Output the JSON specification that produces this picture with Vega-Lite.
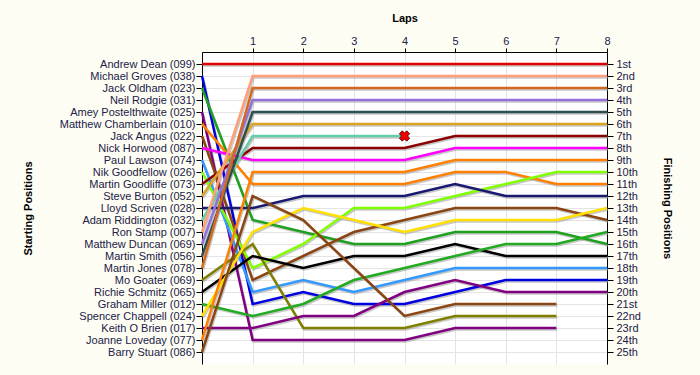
{
  "$schema": "https://vega.github.io/schema/vega-lite/v6.json",
  "width": 405,
  "height": 312,
  "autosize": {"type": "none"},
  "padding": {"left": 202, "top": 52, "right": 93, "bottom": 11},
  "background": "#FEFDF3",
  "config": {
    "view": {"fill": "white", "stroke": null},
    "font": "Liberation Sans"
  },
  "datasets": {
    "laps": [
      {"driver":"Andrew Dean","lap":0,"pos":1},{"driver":"Andrew Dean","lap":1,"pos":1},{"driver":"Andrew Dean","lap":2,"pos":1},{"driver":"Andrew Dean","lap":3,"pos":1},{"driver":"Andrew Dean","lap":4,"pos":1},{"driver":"Andrew Dean","lap":5,"pos":1},{"driver":"Andrew Dean","lap":6,"pos":1},{"driver":"Andrew Dean","lap":7,"pos":1},{"driver":"Andrew Dean","lap":8,"pos":1},
      {"driver":"Michael Groves","lap":0,"pos":2},{"driver":"Michael Groves","lap":1,"pos":21},{"driver":"Michael Groves","lap":2,"pos":20},{"driver":"Michael Groves","lap":3,"pos":21},{"driver":"Michael Groves","lap":4,"pos":21},{"driver":"Michael Groves","lap":5,"pos":20},{"driver":"Michael Groves","lap":6,"pos":19},{"driver":"Michael Groves","lap":7,"pos":19},{"driver":"Michael Groves","lap":8,"pos":19},
      {"driver":"Jack Oldham","lap":0,"pos":3},{"driver":"Jack Oldham","lap":1,"pos":14},{"driver":"Jack Oldham","lap":2,"pos":15},{"driver":"Jack Oldham","lap":3,"pos":16},{"driver":"Jack Oldham","lap":4,"pos":16},{"driver":"Jack Oldham","lap":5,"pos":15},{"driver":"Jack Oldham","lap":6,"pos":15},{"driver":"Jack Oldham","lap":7,"pos":15},{"driver":"Jack Oldham","lap":8,"pos":16},
      {"driver":"Amey Postelthwaite","lap":0,"pos":5},{"driver":"Amey Postelthwaite","lap":1,"pos":24},{"driver":"Amey Postelthwaite","lap":2,"pos":24},{"driver":"Amey Postelthwaite","lap":3,"pos":24},{"driver":"Amey Postelthwaite","lap":4,"pos":24},{"driver":"Amey Postelthwaite","lap":5,"pos":23},{"driver":"Amey Postelthwaite","lap":6,"pos":23},{"driver":"Amey Postelthwaite","lap":7,"pos":23},
      {"driver":"Matthew Chamberlain","lap":0,"pos":6},{"driver":"Matthew Chamberlain","lap":1,"pos":11},{"driver":"Matthew Chamberlain","lap":2,"pos":11},{"driver":"Matthew Chamberlain","lap":3,"pos":11},{"driver":"Matthew Chamberlain","lap":4,"pos":11},{"driver":"Matthew Chamberlain","lap":5,"pos":10},{"driver":"Matthew Chamberlain","lap":6,"pos":10},{"driver":"Matthew Chamberlain","lap":7,"pos":11},{"driver":"Matthew Chamberlain","lap":8,"pos":11},
      {"driver":"Jack Angus","lap":0,"pos":7},{"driver":"Jack Angus","lap":1,"pos":19},{"driver":"Jack Angus","lap":2,"pos":17},{"driver":"Jack Angus","lap":3,"pos":15},{"driver":"Jack Angus","lap":4,"pos":14},{"driver":"Jack Angus","lap":5,"pos":13},{"driver":"Jack Angus","lap":6,"pos":13},{"driver":"Jack Angus","lap":7,"pos":13},{"driver":"Jack Angus","lap":8,"pos":14},
      {"driver":"Nick Horwood","lap":0,"pos":8},{"driver":"Nick Horwood","lap":1,"pos":9},{"driver":"Nick Horwood","lap":2,"pos":9},{"driver":"Nick Horwood","lap":3,"pos":9},{"driver":"Nick Horwood","lap":4,"pos":9},{"driver":"Nick Horwood","lap":5,"pos":8},{"driver":"Nick Horwood","lap":6,"pos":8},{"driver":"Nick Horwood","lap":7,"pos":8},{"driver":"Nick Horwood","lap":8,"pos":8},
      {"driver":"Paul Lawson","lap":0,"pos":9},{"driver":"Paul Lawson","lap":1,"pos":20},{"driver":"Paul Lawson","lap":2,"pos":19},{"driver":"Paul Lawson","lap":3,"pos":20},{"driver":"Paul Lawson","lap":4,"pos":19},{"driver":"Paul Lawson","lap":5,"pos":18},{"driver":"Paul Lawson","lap":6,"pos":18},{"driver":"Paul Lawson","lap":7,"pos":18},{"driver":"Paul Lawson","lap":8,"pos":18},
      {"driver":"Nik Goodfellow","lap":0,"pos":10},{"driver":"Nik Goodfellow","lap":1,"pos":18},{"driver":"Nik Goodfellow","lap":2,"pos":16},{"driver":"Nik Goodfellow","lap":3,"pos":13},{"driver":"Nik Goodfellow","lap":4,"pos":13},{"driver":"Nik Goodfellow","lap":5,"pos":12},{"driver":"Nik Goodfellow","lap":6,"pos":11},{"driver":"Nik Goodfellow","lap":7,"pos":10},{"driver":"Nik Goodfellow","lap":8,"pos":10},
      {"driver":"Martin Goodliffe","lap":0,"pos":11},{"driver":"Martin Goodliffe","lap":1,"pos":8},{"driver":"Martin Goodliffe","lap":2,"pos":8},{"driver":"Martin Goodliffe","lap":3,"pos":8},{"driver":"Martin Goodliffe","lap":4,"pos":8},{"driver":"Martin Goodliffe","lap":5,"pos":7},{"driver":"Martin Goodliffe","lap":6,"pos":7},{"driver":"Martin Goodliffe","lap":7,"pos":7},{"driver":"Martin Goodliffe","lap":8,"pos":7},
      {"driver":"Steve Burton","lap":0,"pos":12},{"driver":"Steve Burton","lap":1,"pos":6},{"driver":"Steve Burton","lap":2,"pos":6},{"driver":"Steve Burton","lap":3,"pos":6},{"driver":"Steve Burton","lap":4,"pos":6},{"driver":"Steve Burton","lap":5,"pos":6},{"driver":"Steve Burton","lap":6,"pos":6},{"driver":"Steve Burton","lap":7,"pos":6},{"driver":"Steve Burton","lap":8,"pos":6},
      {"driver":"Lloyd Scriven","lap":0,"pos":13},{"driver":"Lloyd Scriven","lap":1,"pos":13},{"driver":"Lloyd Scriven","lap":2,"pos":12},{"driver":"Lloyd Scriven","lap":3,"pos":12},{"driver":"Lloyd Scriven","lap":4,"pos":12},{"driver":"Lloyd Scriven","lap":5,"pos":11},{"driver":"Lloyd Scriven","lap":6,"pos":12},{"driver":"Lloyd Scriven","lap":7,"pos":12},{"driver":"Lloyd Scriven","lap":8,"pos":12},
      {"driver":"Adam Riddington","lap":0,"pos":14},{"driver":"Adam Riddington","lap":1,"pos":7},{"driver":"Adam Riddington","lap":2,"pos":7},{"driver":"Adam Riddington","lap":3,"pos":7},{"driver":"Adam Riddington","lap":4,"pos":7},
      {"driver":"Ron Stamp","lap":0,"pos":15},{"driver":"Ron Stamp","lap":1,"pos":2},{"driver":"Ron Stamp","lap":2,"pos":2},{"driver":"Ron Stamp","lap":3,"pos":2},{"driver":"Ron Stamp","lap":4,"pos":2},{"driver":"Ron Stamp","lap":5,"pos":2},{"driver":"Ron Stamp","lap":6,"pos":2},{"driver":"Ron Stamp","lap":7,"pos":2},{"driver":"Ron Stamp","lap":8,"pos":2},
      {"driver":"Matthew Duncan","lap":0,"pos":16},{"driver":"Matthew Duncan","lap":1,"pos":4},{"driver":"Matthew Duncan","lap":2,"pos":4},{"driver":"Matthew Duncan","lap":3,"pos":4},{"driver":"Matthew Duncan","lap":4,"pos":4},{"driver":"Matthew Duncan","lap":5,"pos":4},{"driver":"Matthew Duncan","lap":6,"pos":4},{"driver":"Matthew Duncan","lap":7,"pos":4},{"driver":"Matthew Duncan","lap":8,"pos":4},
      {"driver":"Martin Smith","lap":0,"pos":17},{"driver":"Martin Smith","lap":1,"pos":5},{"driver":"Martin Smith","lap":2,"pos":5},{"driver":"Martin Smith","lap":3,"pos":5},{"driver":"Martin Smith","lap":4,"pos":5},{"driver":"Martin Smith","lap":5,"pos":5},{"driver":"Martin Smith","lap":6,"pos":5},{"driver":"Martin Smith","lap":7,"pos":5},{"driver":"Martin Smith","lap":8,"pos":5},
      {"driver":"Martin Jones","lap":0,"pos":18},{"driver":"Martin Jones","lap":1,"pos":3},{"driver":"Martin Jones","lap":2,"pos":3},{"driver":"Martin Jones","lap":3,"pos":3},{"driver":"Martin Jones","lap":4,"pos":3},{"driver":"Martin Jones","lap":5,"pos":3},{"driver":"Martin Jones","lap":6,"pos":3},{"driver":"Martin Jones","lap":7,"pos":3},{"driver":"Martin Jones","lap":8,"pos":3},
      {"driver":"Mo Goater","lap":0,"pos":19},{"driver":"Mo Goater","lap":1,"pos":16},{"driver":"Mo Goater","lap":2,"pos":23},{"driver":"Mo Goater","lap":3,"pos":23},{"driver":"Mo Goater","lap":4,"pos":23},{"driver":"Mo Goater","lap":5,"pos":22},{"driver":"Mo Goater","lap":6,"pos":22},{"driver":"Mo Goater","lap":7,"pos":22},
      {"driver":"Richie Schmitz","lap":0,"pos":20},{"driver":"Richie Schmitz","lap":1,"pos":17},{"driver":"Richie Schmitz","lap":2,"pos":18},{"driver":"Richie Schmitz","lap":3,"pos":17},{"driver":"Richie Schmitz","lap":4,"pos":17},{"driver":"Richie Schmitz","lap":5,"pos":16},{"driver":"Richie Schmitz","lap":6,"pos":17},{"driver":"Richie Schmitz","lap":7,"pos":17},{"driver":"Richie Schmitz","lap":8,"pos":17},
      {"driver":"Graham Miller","lap":0,"pos":21},{"driver":"Graham Miller","lap":1,"pos":22},{"driver":"Graham Miller","lap":2,"pos":21},{"driver":"Graham Miller","lap":3,"pos":19},{"driver":"Graham Miller","lap":4,"pos":18},{"driver":"Graham Miller","lap":5,"pos":17},{"driver":"Graham Miller","lap":6,"pos":16},{"driver":"Graham Miller","lap":7,"pos":16},{"driver":"Graham Miller","lap":8,"pos":15},
      {"driver":"Spencer Chappell","lap":0,"pos":22},{"driver":"Spencer Chappell","lap":1,"pos":15},{"driver":"Spencer Chappell","lap":2,"pos":13},{"driver":"Spencer Chappell","lap":3,"pos":14},{"driver":"Spencer Chappell","lap":4,"pos":15},{"driver":"Spencer Chappell","lap":5,"pos":14},{"driver":"Spencer Chappell","lap":6,"pos":14},{"driver":"Spencer Chappell","lap":7,"pos":14},{"driver":"Spencer Chappell","lap":8,"pos":13},
      {"driver":"Keith O Brien","lap":0,"pos":23},{"driver":"Keith O Brien","lap":1,"pos":23},{"driver":"Keith O Brien","lap":2,"pos":22},{"driver":"Keith O Brien","lap":3,"pos":22},{"driver":"Keith O Brien","lap":4,"pos":20},{"driver":"Keith O Brien","lap":5,"pos":19},{"driver":"Keith O Brien","lap":6,"pos":20},{"driver":"Keith O Brien","lap":7,"pos":20},{"driver":"Keith O Brien","lap":8,"pos":20},
      {"driver":"Joanne Loveday","lap":0,"pos":24},{"driver":"Joanne Loveday","lap":1,"pos":10},{"driver":"Joanne Loveday","lap":2,"pos":10},{"driver":"Joanne Loveday","lap":3,"pos":10},{"driver":"Joanne Loveday","lap":4,"pos":10},{"driver":"Joanne Loveday","lap":5,"pos":9},{"driver":"Joanne Loveday","lap":6,"pos":9},{"driver":"Joanne Loveday","lap":7,"pos":9},{"driver":"Joanne Loveday","lap":8,"pos":9},
      {"driver":"Barry Stuart","lap":0,"pos":25},{"driver":"Barry Stuart","lap":1,"pos":12},{"driver":"Barry Stuart","lap":2,"pos":14},{"driver":"Barry Stuart","lap":3,"pos":18},{"driver":"Barry Stuart","lap":4,"pos":22},{"driver":"Barry Stuart","lap":5,"pos":21},{"driver":"Barry Stuart","lap":6,"pos":21},{"driver":"Barry Stuart","lap":7,"pos":21}
    ],
    "retired": [{"driver":"Adam Riddington","lap":4,"pos":7}]
  },
  "data": {"name": "laps"},
  "encoding": {
    "x": {
      "field": "lap", "type": "quantitative",
      "scale": {"domain": [0, 8], "nice": false, "zero": false},
      "axis": {
        "orient": "top", "values": [1,2,3,4,5,6,7,8], "format": "d",
        "title": "Laps", "titleFontSize": 11, "titleFontWeight": "bold", "titleColor": "#000000",
        "titleX": 202.5, "titleY": -34, "titleBaseline": "middle", "titleAlign": "center",
        "tickSize": 4, "tickColor": "#000000", "domainColor": "#000000", "labelPadding": 2,
        "labelFontSize": 11, "labelColor": "#202048", "labelFlush": false,
        "grid": true, "gridColor": "#E4E4E4", "gridWidth": 1
      }
    }
  },
  "layer": [
    {
      "mark": {"type": "line", "color": "#9A9A9A", "opacity": 0.55, "strokeWidth": 2.5, "xOffset": 1, "yOffset": 1.5},
      "encoding": {
        "y": {
          "field": "pos", "type": "quantitative",
          "scale": {"domain": [0, 26], "reverse": true, "nice": false, "zero": false},
          "axis": {
            "orient": "left", "values": [1,2,3,4,5,6,7,8,9,10,11,12,13,14,15,16,17,18,19,20,21,22,23,24,25],
            "labelExpr": "['', 'Andrew Dean (099)', 'Michael Groves (038)', 'Jack Oldham (023)', 'Neil Rodgie (031)', 'Amey Postelthwaite (025)', 'Matthew Chamberlain (010)', 'Jack Angus (022)', 'Nick Horwood (087)', 'Paul Lawson (074)', 'Nik Goodfellow (026)', 'Martin Goodliffe (073)', 'Steve Burton (052)', 'Lloyd Scriven (028)', 'Adam Riddington (032)', 'Ron Stamp (007)', 'Matthew Duncan (069)', 'Martin Smith (056)', 'Martin Jones (078)', 'Mo Goater (069)', 'Richie Schmitz (065)', 'Graham Miller (012)', 'Spencer Chappell (024)', 'Keith O Brien (017)', 'Joanne Loveday (077)', 'Barry Stuart (086)'][datum.value]",
            "title": "Starting Positions", "titleFontSize": 11, "titleFontWeight": "bold", "titleColor": "#000000",
            "titleX": -174, "titleY": 156, "titleAngle": -90, "titleBaseline": "middle", "titleAlign": "center",
            "tickSize": 6, "tickColor": "#000000", "domainColor": "#000000", "labelPadding": 1,
            "labelFontSize": 11, "labelColor": "#202048", "labelOverlap": false, "labelFlush": false, "labelBound": false,
            "grid": true, "gridColor": "#E4E4E4", "gridWidth": 1
          }
        },
        "detail": {"field": "driver"},
        "order": {"field": "lap", "type": "quantitative"}
      }
    },
    {
      "mark": {"type": "line", "strokeWidth": 2.5},
      "encoding": {
        "y": {
          "field": "pos", "type": "quantitative",
          "scale": {"domain": [0, 26], "reverse": true, "nice": false, "zero": false},
          "axis": {
            "orient": "right", "values": [1,2,3,4,5,6,7,8,9,10,11,12,13,14,15,16,17,18,19,20,21,22,23,24,25],
            "labelExpr": "['', '1st', '2nd', '3rd', '4th', '5th', '6th', '7th', '8th', '9th', '10th', '11th', '12th', '13th', '14th', '15th', '16th', '17th', '18th', '19th', '20th', '21st', '22nd', '23rd', '24th', '25th'][datum.value]",
            "title": "Finishing Positions", "titleFontSize": 11, "titleFontWeight": "bold", "titleColor": "#000000",
            "titleX": 59, "titleY": 156, "titleAngle": 90, "titleBaseline": "middle", "titleAlign": "center",
            "tickSize": 6, "tickColor": "#000000", "domainColor": "#000000", "labelPadding": 3,
            "labelFontSize": 11, "labelColor": "#202048", "labelOverlap": false, "labelFlush": false, "labelBound": false,
            "grid": false
          }
        },
        "color": {
          "field": "driver", "type": "nominal", "legend": null,
          "scale": {
            "domain": ["Andrew Dean","Michael Groves","Jack Oldham","Amey Postelthwaite","Matthew Chamberlain","Jack Angus","Nick Horwood","Paul Lawson","Nik Goodfellow","Martin Goodliffe","Steve Burton","Lloyd Scriven","Adam Riddington","Ron Stamp","Matthew Duncan","Martin Smith","Martin Jones","Mo Goater","Richie Schmitz","Graham Miller","Spencer Chappell","Keith O Brien","Joanne Loveday","Barry Stuart"],
            "range": ["#E00000","#0000E0","#1FA01F","#800080","#FF8000","#8B4513","#FF00FF","#3399FF","#7FFF00","#8B0000","#DAA520","#191970","#66CDAA","#FFA07A","#9370DB","#2F4F4F","#D2691E","#808000","#000000","#22AA22","#FFE000","#800080","#FF8000","#8B4513"]
          }
        },
        "detail": {"field": "driver"},
        "order": {"field": "lap", "type": "quantitative"}
      }
    },
    {
      "data": {"name": "retired"},
      "mark": {"type": "point", "shape": "cross", "angle": 45, "size": 110, "filled": true, "fill": "#EE0000", "stroke": "#500000", "strokeWidth": 0.8, "opacity": 1},
      "encoding": {
        "y": {
          "field": "pos", "type": "quantitative",
          "scale": {"domain": [0, 26], "reverse": true, "nice": false, "zero": false},
          "axis": null
        }
      }
    }
  ],
  "resolve": {"scale": {"y": "independent"}}
}
